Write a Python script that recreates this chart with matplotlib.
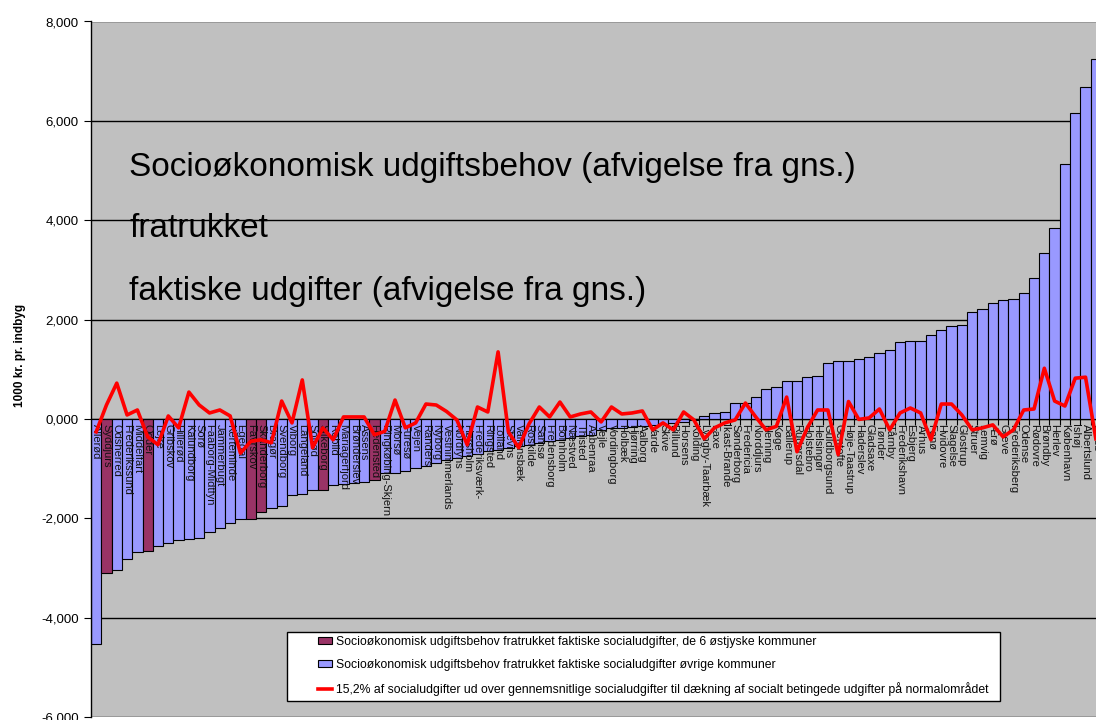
import numpy as np
import matplotlib.pyplot as plt
from matplotlib.patches import Rectangle, Patch
from matplotlib.lines import Line2D

plt.rcParams['font.family'] = ['Liberation Sans', 'DejaVu Sans']

# Kommuner, sorteret efter afvigelse
kommuner = ["Allerød", "Syddjurs", "Odsherred", "Frederikssund", "Middelfart", "Odder",
            "Lejre", "Gribskov", "Hillerød", "Kalundborg", "Sorø", "Faaborg-Midtfyn",
            "Jammerbugt", "Kerteminde", "Egedal", "Favrskov", "Skanderborg", "Dragør",
            "Svendborg", "Viborg", "Langeland", "Solrød", "Silkeborg", "Rebild",
            "Mariagerfjord", "Brønderslev", "Assens", "Hedensted", "Ringkøbing-Skjern",
            "Morsø", "Furesø", "Vejen", "Randers", "Nyborg", "Vesthimmerlands",
            "Nordfyns", "Hørsholm", "Frederiksværk-", "Ringsted", "Lolland", "Stevns",
            "Vallensbæk", "Roskilde", "Samsø", "Fredensborg", "Bornholm", "Næstved",
            "Thisted", "Aabenraa", "Vejle", "Vordingborg", "Holbæk", "Hjørring",
            "Aalborg", "Varde", "Skive", "Billund", "Horsens", "Kolding",
            "Lyngby-Taarbæk", "Faxe", "Ikast-Brande", "Sønderborg", "Fredericia",
            "Norddjurs", "Herning", "Køge", "Ballerup", "Rudersdal", "Holstebro",
            "Helsingør", "Guldborgsund", "Gentofte", "Høje-Taastrup", "Haderslev",
            "Gladsaxe", "Tønder", "Tårnby", "Frederikshavn", "Esbjerg", "Århus", "Fanø",
            "Hvidovre", "Slagelse", "Glostrup", "Struer", "Lemvig", "Ærø", "Greve",
            "Frederiksberg", "Odense", "Rødovre", "Brøndby", "Herlev", "København",
            "Ishøj", "Albertslund", "Læsø"]

# Socioøkonomisk udgiftsbehov fratrukket faktiske udgifter (1000 kr. pr. indbygger)
behov = [-4530, -3105, -3040, -2825, -2680, -2660, -2565, -2490, -2435, -2415,
         -2400, -2275, -2200, -2100, -2020, -2020, -1880, -1790, -1750, -1535,
         -1520, -1430, -1440, -1340, -1315, -1295, -1275, -1230, -1095, -1080,
         -1045, -990, -945, -895, -820, -780, -750, -705, -650, -620,
         -585, -550, -515, -480, -450, -415, -380, -350, -315, -220,
         -190, -180, -170, -150, -120, -100, -80, -60, -25, 65,
         115, 135, 315, 315, 450, 604, 650, 771, 771, 839,
         865, 1133, 1173, 1173, 1207, 1247, 1321, 1395, 1549, 1576,
         1576, 1690, 1784, 1865, 1898, 2153, 2207, 2341, 2394, 2414,
         2541, 2837, 3333, 3850, 5125, 6157, 6686, 7237]

# de 6 østjyske kommuner
oestjyske = ["Syddjurs", "Odder", "Favrskov", "Skanderborg", "Silkeborg", "Hedensted"]

# 15,2% af socialudgifter ud over gennemsnitlige socialudgifter
andel = [-260, 280, 720, 80, 180, -360, -520, 60, -180, 540,
         280, 120, 180, 60, -690, -450, -420, -480, 360, -80,
         785, -580, -180, -420, 40, 40, 40, -320, -250, 380,
         -180, -80, 300, 280, 150, -20, -520, 240, 140, 1350,
         -260, -580, -100, 240, 40, 340, 40, 100, 140, -60,
         240, 100, 120, 160, -220, -80, -220, 140, -20, -400,
         -180, -80, -20, 320, 40, -220, -150, 440, -660, -180,
         180, 180, -720, 350, -10, 20, 200, -220, 120, 220,
         120, -420, 300, 300, 80, -220, -180, -120, -360, -220,
         180, 200, 1020, 360, 260, 820, 840, -400]

yticks = [-6000, -4000, -2000, 0, 2000, 4000, 6000, 8000]
ytick_labels = ["-6,000", "-4,000", "-2,000", "0,000", "2,000", "4,000", "6,000", "8,000"]

blaa = '#9999FF'
lilla = '#993366'

fig = plt.figure(figsize=(10.96, 7.2), dpi=100)
fig.patch.set_facecolor('white')
ax = fig.add_axes([91 / 1096, 3 / 720, (1101 - 91) / 1096, (717 - 21.5) / 720])
ax.set_facecolor('#C0C0C0')

x = np.arange(len(kommuner))
farver = [lilla if k in oestjyske else blaa for k in kommuner]
ax.bar(x, behov, width=1.0, color=farver, edgecolor='black', linewidth=0.8, zorder=2)
ax.plot(x, andel, color='#FF0000', linewidth=2.6, zorder=5)

for xi, navn in zip(x, kommuner):
    ax.annotate(navn, (xi, 0), xytext=(0, -4), textcoords='offset points',
                rotation=-90, ha='center', va='top', fontsize=8, zorder=4,
                color='#111111')

ax.set_xlim(-0.5, len(kommuner) - 0.5)
ax.set_ylim(-6000, 8000)
ax.set_yticks(yticks)
ax.set_yticklabels(ytick_labels, fontsize=9.5)
ax.yaxis.grid(True, color='black', linewidth=1.0)
ax.set_axisbelow(True)
ax.tick_params(axis='y', direction='out', length=5, color='black', pad=4)

ax.spines['bottom'].set_position(('data', 0))
ax.spines['bottom'].set_zorder(3)
ax.set_xticks(x[:-1] + 0.5)
ax.set_xticklabels([])
ax.tick_params(axis='x', direction='out', length=4, color='black')
ax.spines['top'].set_visible(False)
ax.spines['right'].set_visible(False)
ax.spines['left'].set_linewidth(1.0)

ax.set_ylabel('1000 kr. pr. indbyg', fontsize=8.5, fontweight='bold')
ax.yaxis.set_label_coords(-0.064, 0.52)

ax.text(0.038, 0.79, 'Socioøkonomisk udgiftsbehov (afvigelse fra gns.)', transform=ax.transAxes,
        fontsize=24, va='center', ha='left')
ax.text(0.038, 0.703, 'fratrukket', transform=ax.transAxes, fontsize=24, va='center', ha='left')
ax.text(0.038, 0.612, 'faktiske udgifter (afvigelse fra gns.)', transform=ax.transAxes,
        fontsize=24, va='center', ha='left')

# legend box
fig.patches.append(Rectangle((287 / 1096, 1 - 701 / 720), (1000 - 287) / 1096, 69 / 720,
                             transform=fig.transFigure, facecolor='white',
                             edgecolor='black', linewidth=1.0, zorder=6))
handles = [Patch(facecolor=lilla, edgecolor='black', linewidth=0.8),
           Patch(facecolor=blaa, edgecolor='black', linewidth=0.8),
           Line2D([0], [0], color='#FF0000', linewidth=2.6)]
labels = ['Socioøkonomisk udgiftsbehov fratrukket faktiske socialudgifter, de 6 østjyske kommuner',
          'Socioøkonomisk udgiftsbehov fratrukket faktiske socialudgifter øvrige kommuner',
          '15,2% af socialudgifter ud over gennemsnitlige socialudgifter til dækning af socialt betingede udgifter på normalområdet']
leg = fig.legend(handles, labels, loc='upper left', bbox_to_anchor=(308 / 1096, 1 - 626 / 720),
                 frameon=False, fontsize=8.8, handlelength=1.2, handleheight=0.55,
                 handletextpad=0.3, labelspacing=0.9, borderpad=0.3)
leg.set_zorder(7)

fig.savefig('out.png', dpi=100)
